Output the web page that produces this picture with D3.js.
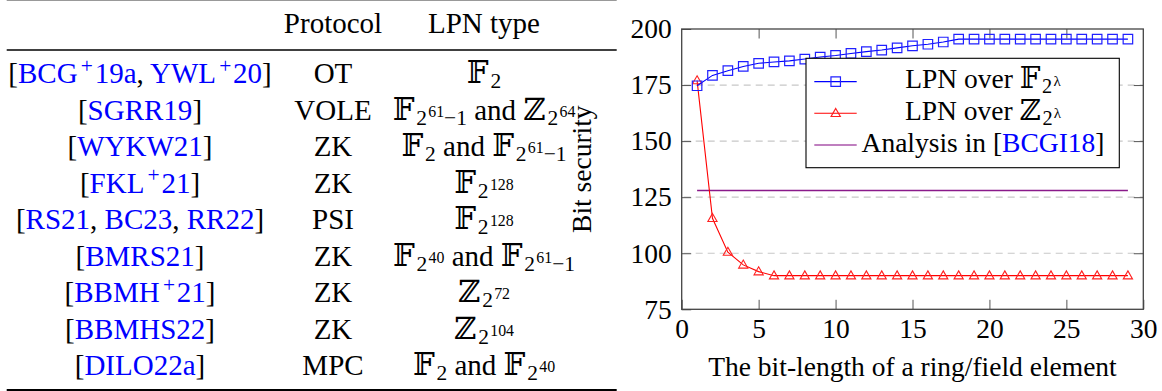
<!DOCTYPE html>
<html>
<head>
<meta charset="utf-8">
<script src="https://cdn.jsdelivr.net/npm/d3@7"></script>
<style>
  html, body { margin: 0; padding: 0; background: #fff; }
  svg { display: block; }
  text, tspan { font-family: 'Liberation Serif', 'DejaVu Serif', serif; }
</style>
</head>
<body>
<svg id="c" width="1162" height="391"></svg>
<script>
// ---------------- DATA ----------------
// Table
const tableHeaders = ["", "Protocol", "LPN type"];
const citations = [
  ["BCG^{+}19a", "YWL^{+}20"],
  ["SGRR19"],
  ["WYKW21"],
  ["FKL^{+}21"],
  ["RS21", "BC23", "RR22"],
  ["BMRS21"],
  ["BBMH^{+}21"],
  ["BBMHS22"],
  ["DILO22a"]
];
const protocols = ["OT", "VOLE", "ZK", "ZK", "PSI", "ZK", "ZK", "ZK", "MPC"];
const lpnTypes = [
  "𝔽_{2}",
  "𝔽_{2^{61}−1} and ℤ_{2^{64}}",
  "𝔽_{2} and 𝔽_{2^{61}−1}",
  "𝔽_{2^{128}}",
  "𝔽_{2^{128}}",
  "𝔽_{2^{40}} and 𝔽_{2^{61}−1}",
  "ℤ_{2^{72}}",
  "ℤ_{2^{104}}",
  "𝔽_{2} and 𝔽_{2^{40}}"
];

// Chart
const bitLengths = [1,2,3,4,5,6,7,8,9,10,11,12,13,14,15,16,17,18,19,20,21,22,23,24,25,26,27,28,29];
const lpnField = [174.7,179.3,181.4,183.3,184.7,185.3,185.8,186.6,187.5,188.2,189.1,189.9,190.6,191.6,192.5,193.2,194.2,195.5,195.5,195.5,195.5,195.5,195.5,195.5,195.5,195.5,195.5,195.5,195.5];
const lpnRing  = [177,115.6,100.5,94.8,91.8,90,90,90,90,90,90,90,90,90,90,90,90,90,90,90,90,90,90,90,90,90,90,90,90];
const analysisX = [1, 29];
const analysisY = [128, 128];
const xTicks = [0,5,10,15,20,25,30];
const yTicks = [75,100,125,150,175,200];
const legendLabels = [
  [["LPN over 𝔽_{2^{λ}}", "#000"]],
  [["LPN over ℤ_{2^{λ}}", "#000"]],
  [["Analysis in [", "#000"], ["BCGI18", "#0000ff"], ["]", "#000"]]
];
const xTitle = "The bit-length of a ring/field element";
const yTitle = "Bit security";

// ---------------- RICH TEXT ----------------
const BB = new Set(["𝔽", "ℤ"]);
function parseRich(str, size, shift, color, out) {
  const chars = Array.from(str);
  let buf = "";
  const flush = () => { if (buf) { out.push({t: buf, size, shift, color, dx: 0}); buf = ""; } };
  let i = 0;
  const readGroup = () => {
    if (chars[i] === "{") {
      let depth = 1, j = i + 1;
      while (j < chars.length && depth > 0) {
        if (chars[j] === "{") depth++;
        else if (chars[j] === "}") depth--;
        j++;
      }
      const g = chars.slice(i + 1, j - 1).join("");
      i = j;
      return g;
    }
    return chars[i++];
  };
  while (i < chars.length) {
    const ch = chars[i];
    if (ch === "_" || ch === "^") {
      flush();
      i++;
      const g = readGroup();
      const start = out.length;
      if (ch === "_") parseRich(g, size * 0.74, shift + 0.18 * size, color, out);
      else parseRich(g, size * 0.74, shift - 0.36 * size, color, out);
      if (out[start]) out[start].dx += size * 0.06;
      if (g === "+" && out[start]) {
        out[start].dx += size * 0.05;
        out[start].pad = size * 0.06;
      }
    } else if (BB.has(ch)) {
      flush();
      out.push({t: ch, size: size * 1.06, shift, color, dx: 0});
      i++;
    } else {
      buf += ch; i++;
    }
  }
  flush();
  return out;
}

function richText(sel, x, y, pieces, size, anchor) {
  const segs = [];
  pieces.forEach(([s, c]) => parseRich(s, size, 0, c, segs));
  const t = sel.append("text").attr("x", x).attr("y", y)
    .attr("text-anchor", anchor || "middle");
  let prev = 0, pend = 0;
  segs.forEach(s => {
    t.append("tspan").text(s.t)
      .attr("font-size", s.size)
      .attr("dy", s.shift - prev)
      .attr("dx", (s.dx || 0) + pend)
      .attr("fill", s.color);
    pend = s.pad || 0;
    prev = s.shift;
  });
  return t;
}

const svg = d3.select("#c");

// ---------------- TABLE ----------------
const tbl = svg.append("g");
const tFont = 29;
const colCenters = [140, 333, 484];
const rowY = d3.scalePoint().domain(d3.range(citations.length)).range([83, 375]);

tbl.append("line").attr("x1", 6.7).attr("x2", 616.7).attr("y1", 0.5).attr("y2", 0.5)
  .attr("stroke", "#999").attr("stroke-width", 1.2);
tbl.append("line").attr("x1", 6.7).attr("x2", 616.7).attr("y1", 50).attr("y2", 50)
  .attr("stroke", "#000").attr("stroke-width", 1.5);
tbl.append("line").attr("x1", 6.7).attr("x2", 616.7).attr("y1", 390).attr("y2", 390)
  .attr("stroke", "#000").attr("stroke-width", 2);

tableHeaders.forEach((h, i) => {
  if (h) richText(tbl, colCenters[i], 33, [[h, "#000"]], tFont);
});

citations.forEach((keys, r) => {
  const pieces = [["[", "#000"]];
  keys.forEach((k, j) => {
    if (j > 0) pieces.push([", ", "#000"]);
    pieces.push([k, "#0000ff"]);
  });
  pieces.push(["]", "#000"]);
  richText(tbl, colCenters[0], rowY(r), pieces, tFont);
  richText(tbl, colCenters[1], rowY(r), [[protocols[r], "#000"]], tFont);
  richText(tbl, colCenters[2], rowY(r), [[lpnTypes[r], "#000"]], tFont);
});

// ---------------- CHART ----------------
const cFont = 27.5;
const L = 681.7, R = 1143.3, T = 29, B = 309.3;
const x = d3.scaleLinear().domain([0, 30]).range([L, R]);
const y = d3.scaleLinear().domain([75, 200]).range([B, T]);
const ch = svg.append("g");

// grid
ch.append("g").selectAll("line").data(yTicks.filter(v => v > 75 && v < 200)).join("line")
  .attr("x1", L).attr("x2", R).attr("y1", d => y(d)).attr("y2", d => y(d))
  .attr("stroke", "#c8c8c8").attr("stroke-width", 1.2).attr("stroke-dasharray", "7,5")
  .attr("stroke-dashoffset", -2);

// axes (inward ticks)
const tickLen = 9.5;
const styleAxis = g => {
  g.select(".domain").remove();
  g.selectAll(".tick line").attr("stroke", "#555").attr("stroke-width", 1);
  g.selectAll(".tick text").attr("font-size", cFont).attr("fill", "#000")
    .attr("font-family", "'Liberation Serif', serif");
};
ch.append("g").attr("transform", `translate(0,${B})`)
  .call(d3.axisBottom(x).tickValues(xTicks).tickSizeInner(-tickLen).tickSizeOuter(0).tickPadding(9.5))
  .call(styleAxis)
  .call(g => g.selectAll(".tick text").attr("y", 9.5));
ch.append("g").attr("transform", `translate(0,${T})`)
  .call(d3.axisTop(x).tickValues(xTicks.slice(1, -1)).tickSizeInner(-tickLen).tickSizeOuter(0).tickFormat(""))
  .call(styleAxis);
ch.append("g").attr("transform", `translate(${L},0)`)
  .call(d3.axisLeft(y).tickValues(yTicks).tickSizeInner(-tickLen).tickSizeOuter(0).tickPadding(10))
  .call(styleAxis)
  .call(g => g.selectAll(".tick text").attr("x", -10));
ch.append("g").attr("transform", `translate(${R},0)`)
  .call(d3.axisRight(y).tickValues(yTicks.slice(1, -1)).tickSizeInner(-tickLen).tickSizeOuter(0).tickFormat(""))
  .call(styleAxis);

// analysis line
ch.append("path")
  .datum(analysisX.map((v, i) => [v, analysisY[i]]))
  .attr("d", d3.line().x(d => x(d[0])).y(d => y(d[1])))
  .attr("fill", "none").attr("stroke", "#8a1a8a").attr("stroke-width", 1.6);

const sqPath = s => `M${-s/2},${-s/2}h${s}v${s}h${-s}Z`;
const triPath = "M0,-4.8L4.6,3.2L-4.6,3.2Z";

// red series
ch.append("path")
  .datum(bitLengths.map((v, i) => [v, lpnRing[i]]))
  .attr("d", d3.line().x(d => x(d[0])).y(d => y(d[1])))
  .attr("fill", "none").attr("stroke", "#ff0000").attr("stroke-width", 1.1);
ch.append("g").selectAll("path").data(bitLengths.map((v, i) => [v, lpnRing[i]])).join("path")
  .attr("transform", d => `translate(${x(d[0])},${y(d[1])})`)
  .attr("d", triPath).attr("fill", "none").attr("stroke", "#ff2020").attr("stroke-width", 1.1);

// blue series
ch.append("path")
  .datum(bitLengths.map((v, i) => [v, lpnField[i]]))
  .attr("d", d3.line().x(d => x(d[0])).y(d => y(d[1])))
  .attr("fill", "none").attr("stroke", "#0000ff").attr("stroke-width", 1.1);
ch.append("g").selectAll("path").data(bitLengths.map((v, i) => [v, lpnField[i]])).join("path")
  .attr("transform", d => `translate(${x(d[0])},${y(d[1])})`)
  .attr("d", sqPath(9.5)).attr("fill", "none").attr("stroke", "#2020ff").attr("stroke-width", 1.2);

// frame
ch.append("rect").attr("x", L).attr("y", T).attr("width", R - L).attr("height", B - T)
  .attr("fill", "none").attr("stroke", "#444").attr("stroke-width", 1.3);

// legend
const lg = ch.append("g");
lg.append("rect").attr("x", 806).attr("y", 58.3).attr("width", 1119.3 - 806).attr("height", 167.7 - 58.3)
  .attr("fill", "#fff").attr("stroke", "#000").attr("stroke-width", 1.1);
const legY = d3.scalePoint().domain([0, 1, 2]).range([88.3, 151.7]);
const legStyles = [
  {stroke: "#0000ff", mark: sqPath(9.5), mstroke: "#2020ff"},
  {stroke: "#ff0000", mark: triPath, mstroke: "#ff2020"},
  {stroke: "#800080", mark: null}
];
legendLabels.forEach((pieces, i) => {
  const cy = legY(i) - 6.7;
  const st = legStyles[i];
  lg.append("line").attr("x1", 814.3).attr("x2", 856.7).attr("y1", cy).attr("y2", cy)
    .attr("stroke", st.stroke).attr("stroke-width", 1.1);
  if (st.mark) lg.append("path").attr("transform", `translate(835.7,${cy})`)
    .attr("d", st.mark).attr("fill", "none").attr("stroke", st.mstroke).attr("stroke-width", 1.2);
  richText(lg, 983, legY(i), pieces, cFont);
});

// axis titles
richText(ch, (L + R) / 2, 376, [[xTitle, "#000"]], cFont);
ch.append("text").attr("transform", `translate(591,${(T + B) / 2}) rotate(-90)`)
  .attr("text-anchor", "middle").attr("font-size", cFont).text(yTitle);
</script>
</body>
</html>
